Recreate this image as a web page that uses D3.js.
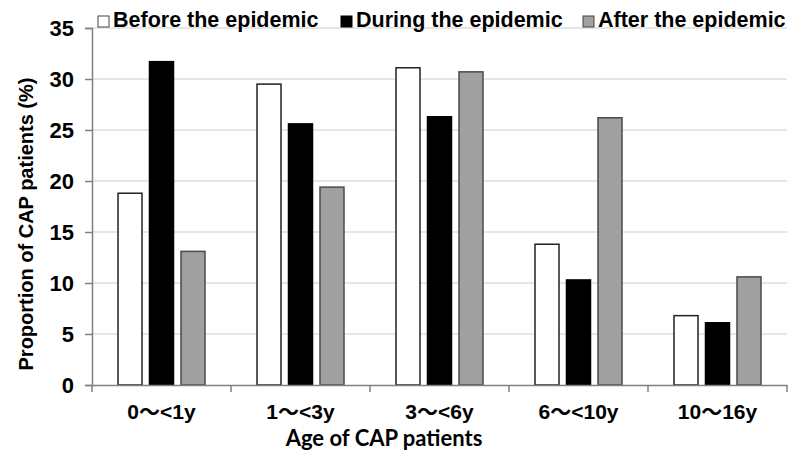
<!DOCTYPE html>
<html><head><meta charset="utf-8">
<script src="https://cdn.jsdelivr.net/npm/d3@7"></script>
<style>body{margin:0;background:#fff}</style>
</head><body>
<svg id="c" width="800" height="469"></svg>
<script>
const categories = ["0～<1y","1～<3y","3～<6y","6～<10y","10～16y"];
const seriesNames = ["Before the epidemic","During the epidemic","After the epidemic"];
const before = [18.8, 29.5, 31.1, 13.8, 6.8];
const during = [31.7, 25.6, 26.3, 10.3, 6.1];
const after  = [13.1, 19.4, 30.7, 26.2, 10.6];
const yTicks = [0,5,10,15,20,25,30,35];
const yTitle = "Proportion of CAP patients (%)";
const xTitle = "Age of CAP patients";

const fills = ["#ffffff","#000000","#a0a0a0"];
const strokes = ["#222222","#000000","#4a4a4a"];
const series = [before, during, after];

const svg = d3.select("#c");
const m = {l:92, r:13, t:28, b:84};
const W = 800, H = 469;
const x0 = d3.scaleBand().domain(categories).range([m.l, W-m.r]).paddingInner(0).paddingOuter(0);
const x1 = d3.scaleBand().domain(seriesNames).range([0, x0.bandwidth()]).paddingInner(0.206).paddingOuter(0.81);
const y = d3.scaleLinear().domain([0,35]).range([H-m.b, m.t]);

// gridlines
svg.append("g").selectAll("line").data(yTicks.filter(d=>d>0)).join("line")
  .attr("x1", m.l).attr("x2", W-m.r)
  .attr("y1", d=>y(d)).attr("y2", d=>y(d))
  .attr("stroke","#dedede").attr("stroke-width",1.5);

// bars
const g = svg.append("g");
categories.forEach((c,i)=>{
  series.forEach((s,j)=>{
    g.append("rect")
      .attr("x", x0(c)+x1(seriesNames[j])+0.5)
      .attr("y", y(s[i]))
      .attr("width", x1.bandwidth()-1)
      .attr("height", y(0)-y(s[i]))
      .attr("fill", fills[j]).attr("stroke", strokes[j]).attr("stroke-width",1.5);
  });
});

// y axis
const ya = svg.append("g").attr("transform",`translate(${m.l},0)`)
  .call(d3.axisLeft(y).tickValues(yTicks).tickSize(7).tickPadding(11));
ya.select(".domain").attr("stroke","#808080").attr("stroke-width",1.5);
ya.selectAll(".tick line").attr("stroke","#808080").attr("stroke-width",1.5);
ya.selectAll("text").attr("font-family","'Liberation Sans', Arial, sans-serif")
  .attr("font-weight","bold").attr("font-size","22px").attr("fill","#000");

// x axis
const xa = svg.append("g").attr("transform",`translate(0,${y(0)})`)
  .call(d3.axisBottom(x0).tickSize(0).tickPadding(0));
xa.select(".domain").attr("stroke","#808080").attr("stroke-width",1.5);
xa.selectAll("text").attr("dy", null).attr("y", 419 - y(0))
  .attr("font-family","'Liberation Sans', 'Noto Sans CJK SC', sans-serif")
  .attr("font-weight","bold").attr("font-size","21px").attr("fill","#000");
const bounds = categories.map(c=>x0(c)).concat([x0(categories[categories.length-1])+x0.bandwidth()]);
xa.selectAll(".bnd").data(bounds).join("line").attr("class","bnd")
  .attr("x1",d=>d).attr("x2",d=>d).attr("y1",0).attr("y2",7)
  .attr("stroke","#808080").attr("stroke-width",1.5);

// titles
svg.append("text").attr("x", 384).attr("y", 446)
  .attr("text-anchor","middle")
  .attr("font-family","Lato, sans-serif")
  .attr("font-weight","bold").attr("font-size","22px").text(xTitle);
svg.append("text").attr("transform",`translate(33,224) rotate(-90)`)
  .attr("text-anchor","middle")
  .attr("font-family","'Liberation Sans', Arial, sans-serif")
  .attr("font-weight","bold").attr("font-size","20px").text(yTitle);

// legend
const legX = [98, 341, 583];
const lg = svg.append("g");
seriesNames.forEach((n,j)=>{
  lg.append("rect").attr("x",legX[j]).attr("y",16).attr("width",11).attr("height",11)
    .attr("fill",fills[j]).attr("stroke", j===1?"#000":"#444").attr("stroke-width",1);
  lg.append("text").attr("x",legX[j]+15).attr("y",27)
    .attr("font-family","'Liberation Sans', Arial, sans-serif")
    .attr("font-weight","bold").attr("font-size","21.5px").text(n);
});
</script>
</body></html>
